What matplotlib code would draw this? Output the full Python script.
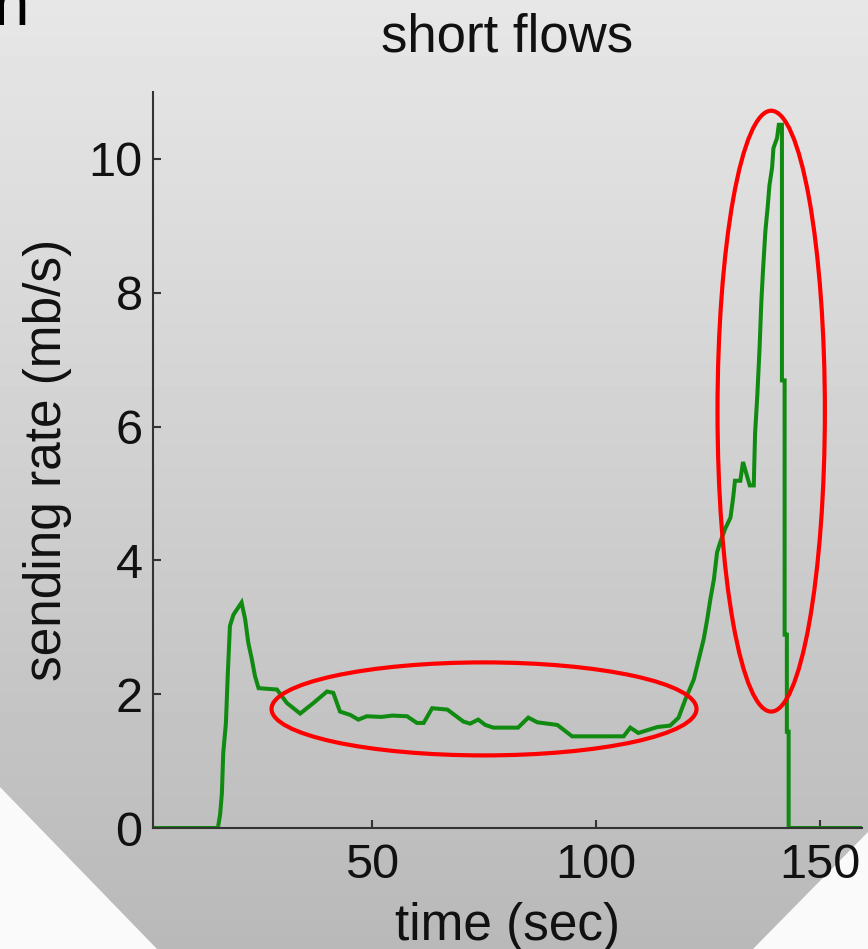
import numpy as np
import matplotlib
matplotlib.use("Agg")
import matplotlib.pyplot as plt
from matplotlib.patches import Ellipse, Polygon

plt.rcParams['font.family'] = ['Liberation Sans', 'DejaVu Sans']

# ---- data ----
time_sec = [1, 15.5, 16.0, 16.4, 16.7, 17.3, 17.7, 18.2, 19.0, 20.0, 20.8, 21.6, 22.3,
            23.1, 23.8, 24.6, 28.7, 30.9, 33.9, 36.9, 39.9, 41.3, 42.8, 45.1, 46.9,
            48.8, 52.0, 54.5, 57.8, 60.0, 61.5, 63.4, 66.8, 70.4, 71.9, 73.7, 75.3,
            77.1, 82.6, 84.9, 86.9, 91.4, 94.7, 106.2, 107.7, 109.5, 113.8, 116.6,
            118.5, 120.0, 121.9, 123.0, 124.1, 124.9, 125.6, 126.4, 127.1, 127.8,
            128.9, 130.1, 130.7, 131.1, 132.3, 132.9, 134.4, 135.3, 135.6, 136.1,
            136.6, 137.0, 137.4, 137.9, 138.4, 138.8, 139.4, 139.7, 140.5, 140.9,
            141.6, 141.6, 142.2, 142.2, 142.7, 142.7, 143.1, 143.1, 159.5]
rate_mbs = [0, 0, 0.2, 0.52, 1.12, 1.57, 2.27, 3.02, 3.19, 3.29, 3.37, 3.12, 2.77,
            2.52, 2.27, 2.09, 2.07, 1.87, 1.71, 1.87, 2.04, 2.02, 1.74, 1.69, 1.62,
            1.67, 1.66, 1.68, 1.67, 1.57, 1.57, 1.79, 1.77, 1.59, 1.56, 1.62, 1.54,
            1.50, 1.50, 1.65, 1.58, 1.54, 1.37, 1.37, 1.50, 1.42, 1.51, 1.53,
            1.65, 1.92, 2.22, 2.52, 2.82, 3.12, 3.42, 3.72, 4.12, 4.27,
            4.47, 4.64, 4.94, 5.19, 5.19, 5.47, 5.12, 5.12, 5.90, 6.47,
            7.17, 7.87, 8.37, 8.92, 9.27, 9.60, 9.87, 10.16, 10.31, 10.51,
            10.51, 6.69, 6.69, 2.89, 2.89, 1.44, 1.44, 0, 0]

x_ticks = [50, 100, 150]
y_ticks = [0, 2, 4, 6, 8, 10]

# highlight ellipses: (center_x, center_y, width, height) in data units
ellipse_flat = (75.0, 1.78, 95.0, 1.39)
ellipse_peak = (139.2, 6.23, 24.0, 8.98)

W, H = 868, 949
fig = plt.figure(figsize=(W / 100, H / 100), dpi=100)

# background: vertical grey gradient + white corner wedges
bg = fig.add_axes([0, 0, 1, 1], zorder=0)
grad = np.linspace(0.905, 0.725, 256).reshape(-1, 1)
bg.imshow(grad, cmap='gray', vmin=0, vmax=1, aspect='auto', extent=[0, 1, 0, 1],
          origin='upper')
bg.add_patch(Polygon([(0, 1 - 787 / H), (157 / W, 0), (0, 0)], closed=True,
                     facecolor='#fafafa', edgecolor='none'))
bg.add_patch(Polygon([(753 / W, 0), (1, 1 - 832 / H), (1, 0)], closed=True,
                     facecolor='#fafafa', edgecolor='none'))
bg.set_xlim(0, 1)
bg.set_ylim(0, 1)
bg.axis('off')
bg.text(-6 / W, 1 - 25 / H, 'n', fontsize=46, color='black',
        ha='left', va='baseline', transform=bg.transAxes)

ax = fig.add_axes([153 / W, 1 - 828 / H, (862 - 153) / W, (828 - 92) / H], zorder=1)
ax.set_facecolor('none')
ax.plot(time_sec, rate_mbs, color='#118a11', lw=2.9, solid_joinstyle='miter')

for (cx, cy, w, h) in (ellipse_flat, ellipse_peak):
    ax.add_patch(Ellipse((cx, cy), w, h, fill=False, edgecolor='#ff0000', lw=3.0,
                         clip_on=False, zorder=5))

ax.set_xlim(1, 159.5)
ax.set_ylim(0, 11)
ax.set_xticks(x_ticks)
ax.set_yticks(y_ticks)
for s in ('top', 'right'):
    ax.spines[s].set_visible(False)
for s in ('left', 'bottom'):
    ax.spines[s].set_color('#333333')
    ax.spines[s].set_linewidth(1.5)
ax.tick_params(axis='both', direction='in', length=5.5, width=1.5, color='#333333',
               labelsize=35, labelcolor='#111111')
ax.tick_params(axis='x', pad=11)
ax.tick_params(axis='y', pad=7.5)

ax.set_title('short flows', fontsize=38, pad=29.5, color='#111111')
ax.set_xlabel('time (sec)', fontsize=37, color='#111111')
ax.set_ylabel('sending rate (mb/s)', fontsize=37, color='#111111')
ax.xaxis.set_label_coords(0.5, (828 - 902) / 736)
ax.yaxis.set_label_coords((72 - 153) / 709, 0.5)

fig.savefig('out.png', dpi=100)
